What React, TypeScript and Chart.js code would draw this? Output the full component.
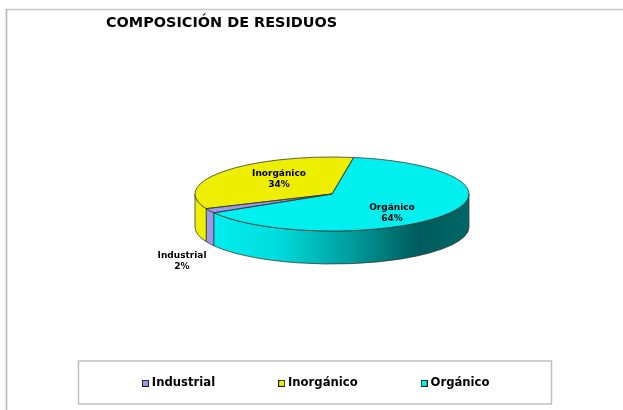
import React, { useEffect, useRef } from "react";
import { Chart, registerables } from "chart.js";

Chart.register(...registerables);

const categories = ["Industrial", "Inorgánico", "Orgánico"];
const values = [2, 34, 64];
const colors = ["#9999ee", "#eeee00", "#00f0f0"];
const titleText = "COMPOSICIÓN DE RESIDUOS";

const FONT = "'DejaVu Sans', Verdana, sans-serif";
const PIE = { cx: 332, cy: 194, rx: 137, ry: 37, depth: 33 };
// label anchor offsets from the pie centre
const labelOffsets = [
  { dx: -150, dy: 67 },
  { dx: -53, dy: -15 },
  { dx: 60, dy: 19 },
];

function marker(color: string) {
  const c = document.createElement("canvas");
  c.width = 7;
  c.height = 7;
  const x = c.getContext("2d")!;
  x.fillStyle = color;
  x.fillRect(0, 0, 7, 7);
  x.strokeStyle = "#222";
  x.lineWidth = 1;
  x.strokeRect(0.5, 0.5, 6, 6);
  return c;
}

const pie3d = {
  id: "pie3d",
  afterLayout(chart: any) {
    const t = chart.titleBlock;
    t.left = 106;
    t.right = 420;
    t.top = 15;
    t.bottom = 35;
    const l = chart.legend;
    const pad = l.options.labels.padding;
    l.left = 145 - pad;
    l.right = 623;
    l.top = 383.5 - 6 - pad;
    l.bottom = 410;
    chart.chartArea = {
      left: PIE.cx - PIE.rx,
      right: PIE.cx + PIE.rx,
      top: PIE.cy - PIE.rx,
      bottom: PIE.cy + PIE.rx,
      width: PIE.rx * 2,
      height: PIE.rx * 2,
    };
  },
  beforeDraw(chart: any) {
    const ctx = chart.ctx;
    ctx.save();
    ctx.fillStyle = "#fff";
    ctx.fillRect(0, 0, chart.width, chart.height);
    ctx.lineWidth = 1.5;
    ctx.strokeStyle = "#c8c8c8";
    ctx.beginPath();
    ctx.moveTo(6, 9.5);
    ctx.lineTo(623, 9.5);
    ctx.stroke();
    ctx.strokeStyle = "#b4b4b4";
    ctx.beginPath();
    ctx.moveTo(6.5, 410);
    ctx.lineTo(6.5, 9);
    ctx.stroke();
    ctx.strokeStyle = "#c0c0c0";
    ctx.strokeRect(78.5, 361, 473, 43);
    ctx.restore();
  },
  beforeDatasetsDraw(chart: any) {
    const ctx = chart.ctx;
    const arcs = chart.getDatasetMeta(0).data;
    const { cx, cy, rx, ry, depth } = PIE;
    ctx.save();
    ctx.strokeStyle = "#383838";
    ctx.lineWidth = 0.8;
    arcs.forEach((arc: any, i: number) => {
      for (let k = -1; k <= 1; k++) {
        const a = Math.max(arc.startAngle, 2 * Math.PI * k);
        const b = Math.min(arc.endAngle, 2 * Math.PI * k + Math.PI);
        if (b <= a) continue;
        ctx.beginPath();
        ctx.ellipse(cx, cy, rx, ry, 0, a, b);
        ctx.ellipse(cx, cy + depth, rx, ry, 0, b, a, true);
        ctx.closePath();
        if (i === 2) {
          const g = ctx.createLinearGradient(213, 0, cx + rx, 0);
          g.addColorStop(0, "#00eeee");
          g.addColorStop(0.25, "#00dcdc");
          g.addColorStop(0.55, "#009a9a");
          g.addColorStop(0.8, "#005c5c");
          g.addColorStop(1, "#006666");
          ctx.fillStyle = g;
        } else {
          ctx.fillStyle = colors[i];
        }
        ctx.fill();
        ctx.stroke();
      }
    });
    ctx.restore();
    ctx.save();
    ctx.translate(cx, cy);
    ctx.scale(1, ry / rx);
    ctx.translate(-cx, -cy);
  },
  afterDatasetsDraw(chart: any) {
    const ctx = chart.ctx;
    ctx.restore();
    const arcs = chart.getDatasetMeta(0).data;
    const { cx, cy, rx, ry } = PIE;
    ctx.save();
    ctx.strokeStyle = "#383838";
    ctx.lineWidth = 0.8;
    arcs.forEach((arc: any) => {
      ctx.beginPath();
      ctx.moveTo(cx, cy);
      ctx.ellipse(cx, cy, rx, ry, 0, arc.startAngle, arc.endAngle);
      ctx.closePath();
      ctx.stroke();
    });
    ctx.fillStyle = "#000";
    ctx.font = `bold 9px ${FONT}`;
    ctx.textAlign = "center";
    ctx.textBaseline = "middle";
    categories.forEach((name, i) => {
      const o = labelOffsets[i];
      ctx.fillText(name, cx + o.dx, cy + o.dy - 5.5);
      ctx.fillText(`${values[i]}%`, cx + o.dx, cy + o.dy + 5.5);
    });
    ctx.restore();
  },
};

export default function App() {
  const ref = useRef<HTMLCanvasElement>(null);
  useEffect(() => {
    const chart = new Chart(ref.current!, {
      type: "pie",
      data: {
        labels: categories,
        datasets: [
          {
            data: values,
            backgroundColor: colors,
            borderWidth: 0,
            clip: false,
          } as any,
        ],
      },
      plugins: [pie3d],
      options: {
        responsive: false,
        animation: false,
        events: [],
        rotation: 239.5,
        plugins: {
          tooltip: { enabled: false },
          title: {
            display: true,
            text: titleText,
            align: "start",
            color: "#000",
            font: { family: FONT, size: 14.45, weight: "bold" },
            padding: 0,
          },
          legend: {
            display: true,
            position: "bottom",
            align: "start",
            labels: {
              color: "#000",
              font: { family: FONT, size: 11.65, weight: "bold" },
              padding: 66,
              usePointStyle: true,
              pointStyleWidth: 1,
              boxHeight: 7,
              generateLabels(c: any) {
                const base = (Chart as any).overrides.pie.plugins.legend.labels.generateLabels(c);
                return base.map((it: any, i: number) => ({ ...it, pointStyle: marker(colors[i]) }));
              },
            },
          },
        },
      } as any,
    });
    return () => chart.destroy();
  }, []);
  return (
    <canvas
      ref={ref}
      width={623}
      height={410}
      style={{ position: "fixed", left: 0, top: 0, display: "block" }}
    />
  );
}
